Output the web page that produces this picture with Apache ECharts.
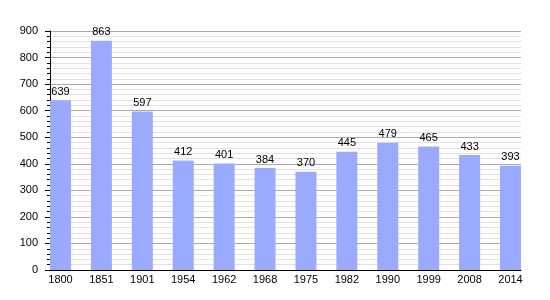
<!DOCTYPE html>
<html>
<head>
<meta charset="utf-8">
<script src="https://cdn.jsdelivr.net/npm/echarts@6/dist/echarts.min.js"></script>
<style>html,body{margin:0;padding:0;background:#fff}#c{width:550px;height:300px}</style>
</head>
<body>
<div id="c"></div>
<script>
var years = ['1800','1851','1901','1954','1962','1968','1975','1982','1990','1999','2008','2014'];
var population = [639, 863, 597, 412, 401, 384, 370, 445, 479, 465, 433, 393];
var yTicks = [0, 100, 200, 300, 400, 500, 600, 700, 800, 900];

var font = 'Liberation Sans, Arial, sans-serif';
var chart = echarts.init(document.getElementById('c'), null, {renderer: 'canvas'});
chart.setOption({
  animation: false,
  backgroundColor: '#fff',
  grid: [
    {left: 50, right: 29, top: 31, bottom: 30, containLabel: false},
    {left: 60.5, right: 39.5, top: 31, bottom: 30, containLabel: false}
  ],
  xAxis: [
    {
      gridIndex: 0, type: 'category', data: years, boundaryGap: false,
      axisLine: {show: true, lineStyle: {color: '#000', width: 1}},
      axisTick: {show: false}, axisLabel: {show: false}, splitLine: {show: false}
    },
    {
      gridIndex: 1, type: 'category', data: years, boundaryGap: false,
      axisLine: {show: false}, axisTick: {show: false},
      axisLabel: {show: true, color: '#000', fontSize: 11, fontFamily: font, margin: 4, interval: 0},
      splitLine: {show: false}
    }
  ],
  yAxis: [
    {
      gridIndex: 0, type: 'value', min: yTicks[0], max: yTicks[yTicks.length - 1], interval: 100,
      axisLine: {show: true, lineStyle: {color: '#000', width: 1}},
      axisTick: {show: true, length: 5, lineStyle: {color: '#000'}},
      minorTick: {show: true, splitNumber: 5, length: 3, lineStyle: {color: '#000'}},
      axisLabel: {color: '#000', fontSize: 11, fontFamily: font, margin: 12},
      splitLine: {show: true, lineStyle: {color: '#aaaaaa', width: 1}},
      minorSplitLine: {show: true, lineStyle: {color: '#e2e2e2', width: 1}}
    },
    {
      gridIndex: 1, type: 'value', min: 0, max: 900, show: false,
      splitLine: {show: false}
    }
  ],
  series: [{
    type: 'bar',
    xAxisIndex: 1, yAxisIndex: 1,
    data: population,
    barWidth: 21,
    clip: false,
    itemStyle: {color: '#99aaff'},
    label: {show: true, position: 'top', distance: 3, color: '#000', fontSize: 11, fontFamily: font}
  }]
});
</script>
</body>
</html>
